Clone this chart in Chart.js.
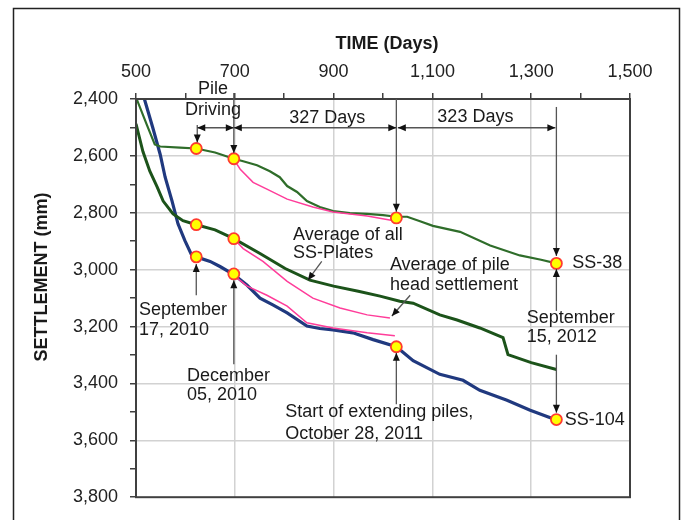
<!DOCTYPE html>
<html>
<head>
<meta charset="utf-8">
<script src="https://cdn.jsdelivr.net/npm/chart.js@4.4.1/dist/chart.umd.min.js"></script>
<style>
  html, body { margin: 0; padding: 0; background: #fff; }
</style>
</head>
<body>
<canvas id="chart" width="683" height="520"></canvas>
<script>
// SS-38 settlement plate (upper curve)
const ss38Days   = [502, 522, 538, 549, 589, 622, 660, 698, 717, 745, 771, 791, 806, 826, 846, 872, 899, 933, 968, 1000, 1027, 1049, 1075, 1101, 1156, 1217, 1277, 1320, 1351];
const ss38Settle = [2403, 2491, 2560, 2567, 2571, 2574, 2588, 2610, 2619, 2633, 2654, 2675, 2706, 2727, 2759, 2780, 2794, 2801, 2804, 2808, 2814, 2814, 2830, 2846, 2867, 2915, 2950, 2965, 2978];

// average of all SS-plates
const avgDays   = [500, 514, 528, 543, 555, 575, 595, 622, 660, 698, 751, 802, 852, 900, 950, 994, 1034, 1061, 1115, 1150, 1196, 1243, 1253, 1300, 1351];
const avgSettle = [2487, 2585, 2654, 2710, 2759, 2804, 2828, 2842, 2860, 2891, 2943, 2996, 3037, 3058, 3076, 3093, 3111, 3118, 3159, 3177, 3205, 3239, 3299, 3327, 3351];

// SS-104 settlement plate (lower curve)
const ss104Days   = [517, 534, 549, 559, 573, 585, 599, 613, 622, 650, 670, 698, 725, 751, 777, 806, 846, 872, 899, 939, 980, 1027, 1061, 1115, 1162, 1196, 1251, 1298, 1351];
const ss104Settle = [2400, 2501, 2595, 2675, 2759, 2839, 2898, 2950, 2955, 2971, 2989, 3017, 3055, 3100, 3124, 3152, 3198, 3207, 3212, 3222, 3246, 3271, 3320, 3368, 3389, 3424, 3459, 3494, 3529];

// pile head settlement (pink)
const pile38Days    = [698, 711, 737, 765, 806, 858, 899, 968, 1022];
const pile38Settle  = [2612, 2647, 2693, 2717, 2752, 2780, 2797, 2811, 2828];
const pileAvgDays   = [698, 717, 757, 806, 858, 913, 968, 1014];
const pileAvgSettle = [2891, 2926, 2971, 3041, 3100, 3135, 3159, 3170];
const pile104Days   = [698, 725, 765, 806, 846, 899, 968, 1024];
const pile104Settle = [3020, 3058, 3090, 3128, 3187, 3205, 3222, 3232];

// key dates: Sep 17 2010, Dec 05 2010, Oct 28 2011, Sep 15 2012
const keyDays      = [622, 698, 1027, 1351];
const ss38Marks    = [2574, 2610, 2818, 2978];
const avgMarks     = [2842, 2891];
const ss104Marks   = [2955, 3015, 3271, 3527];

const xTicks = [500, 700, 900, 1100, 1300, 1500];
const yTicks = [2400, 2600, 2800, 3000, 3200, 3400, 3600, 3800];

function pts(xs, ys) {
    return xs.map((x, i) => ({ x: x, y: ys[i] }));
}

const FONT = '"Liberation Sans", Arial, sans-serif';

// arrows [x1, y1, x2, y2] in data units, head at the end
const arrows = [
    [624, 2491, 624, 2553],
    [698, 2379, 698, 2590],
    [1027, 2400, 1027, 2796],
    [1351, 2428, 1351, 2952],
    [1351, 3145, 1351, 2998],
    [1351, 3299, 1351, 3503],
    [876, 2971, 848, 3037],
    [1055, 3090, 1018, 3163],
    [622, 3090, 622, 2980],
    [698, 3333, 698, 3037],
    [1027, 3473, 1027, 3292],
];
const spans = [
    [624, 698, 2501],
    [698, 1027, 2501],
    [1030, 1349, 2501],
];
const notes = [
    ["Pile", 656, 2365, "center"],
    ["Driving", 656, 2438, "center"],
    ["327 Days", 887, 2466, "center"],
    ["323 Days", 1187, 2463, "center"],
    ["Average of all", 818, 2877, "left"],
    ["SS-Plates", 818, 2940, "left"],
    ["Average of pile", 1014, 2985, "left"],
    ["head settlement", 1014, 3055, "left"],
    ["September", 506, 3142, "left"],
    ["17, 2010", 506, 3212, "left"],
    ["December", 603, 3375, "left"],
    ["05, 2010", 603, 3441, "left"],
    ["Start of extending piles,", 802, 3501, "left"],
    ["October 28, 2011", 802, 3577, "left"],
    ["SS-38", 1383, 2978, "left"],
    ["SS-104", 1368, 3529, "left"],
    ["September", 1291, 3170, "left"],
    ["15, 2012", 1291, 3236, "left"],
];

function head(ctx, x1, y1, x2, y2) {
    const a = Math.atan2(y2 - y1, x2 - x1);
    const L = 8, W = 3.5;
    ctx.beginPath();
    ctx.moveTo(x2, y2);
    ctx.lineTo(x2 - L * Math.cos(a) + W * Math.sin(a), y2 - L * Math.sin(a) - W * Math.cos(a));
    ctx.lineTo(x2 - L * Math.cos(a) - W * Math.sin(a), y2 - L * Math.sin(a) + W * Math.cos(a));
    ctx.closePath();
    ctx.fill();
}

const decor = {
    id: "decor",
    beforeDraw(chart) {
        const ctx = chart.ctx;
        ctx.save();
        ctx.strokeStyle = "#222";
        ctx.lineWidth = 1.5;
        ctx.strokeRect(13.5, 8.5, 666, 530);
        ctx.restore();
    },
    afterDatasetsDraw(chart) {
        const ctx = chart.ctx;
        const sx = chart.scales.x, sy = chart.scales.y;
        const a = chart.chartArea;
        ctx.save();
        ctx.strokeStyle = "#404040";
        ctx.lineWidth = 2;
        ctx.strokeRect(a.left, a.top, a.right - a.left, a.bottom - a.top);

        ctx.strokeStyle = "#555";
        ctx.fillStyle = "#111";
        ctx.lineWidth = 1.3;
        arrows.forEach(function (r) {
            const x1 = sx.getPixelForValue(r[0]), y1 = sy.getPixelForValue(r[1]);
            const x2 = sx.getPixelForValue(r[2]), y2 = sy.getPixelForValue(r[3]);
            ctx.beginPath();
            ctx.moveTo(x1, y1);
            ctx.lineTo(x2, y2);
            ctx.stroke();
            head(ctx, x1, y1, x2, y2);
        });
        spans.forEach(function (r) {
            const x1 = sx.getPixelForValue(r[0]), x2 = sx.getPixelForValue(r[1]);
            const y = sy.getPixelForValue(r[2]);
            ctx.beginPath();
            ctx.moveTo(x1, y);
            ctx.lineTo(x2, y);
            ctx.stroke();
            head(ctx, x2, y, x1, y);
            head(ctx, x1, y, x2, y);
        });

        ctx.fillStyle = "#1a1a1a";
        ctx.font = "18px " + FONT;
        ctx.textBaseline = "middle";
        notes.forEach(function (n) {
            ctx.textAlign = n[3];
            ctx.fillText(n[0], sx.getPixelForValue(n[1]), sy.getPixelForValue(n[2]));
        });

        ctx.font = "bold 18px " + FONT;
        ctx.textAlign = "center";
        ctx.fillText("TIME (Days)", 387, 44);
        ctx.translate(42, 277);
        ctx.rotate(-Math.PI / 2);
        ctx.fillText("SETTLEMENT (mm)", 0, 0);
        ctx.restore();
    },
};

const marker = {
    type: "scatter",
    pointRadius: 5.5,
    pointBackgroundColor: "#ffff00",
    pointBorderColor: "#ff3b2f",
    pointBorderWidth: 1.8,
    showLine: false,
};

const pink = { borderColor: "#ff3d9a", borderWidth: 1.5 };

new Chart(document.getElementById("chart"), {
    type: "line",
    data: {
        datasets: [
            Object.assign({ label: "SS-38 points", data: pts(keyDays, ss38Marks) }, marker),
            Object.assign({ label: "Average points", data: pts(keyDays.slice(0, 2), avgMarks) }, marker),
            Object.assign({ label: "SS-104 points", data: pts(keyDays, ss104Marks) }, marker),
            Object.assign({ label: "Pile head SS-38", data: pts(pile38Days, pile38Settle) }, pink),
            Object.assign({ label: "Pile head average", data: pts(pileAvgDays, pileAvgSettle) }, pink),
            Object.assign({ label: "Pile head SS-104", data: pts(pile104Days, pile104Settle) }, pink),
            { label: "SS-38", data: pts(ss38Days, ss38Settle), borderColor: "#2f6d2a", borderWidth: 2.2 },
            { label: "Average of all SS-Plates", data: pts(avgDays, avgSettle), borderColor: "#1c531a", borderWidth: 3 },
            { label: "SS-104", data: pts(ss104Days, ss104Settle), borderColor: "#20397f", borderWidth: 3.2 },
        ],
    },
    options: {
        responsive: false,
        animation: false,
        layout: { padding: { left: 0, right: 53, top: 0, bottom: 19 } },
        elements: { point: { radius: 0 }, line: { tension: 0 } },
        plugins: { legend: { display: false }, tooltip: { enabled: false } },
        scales: {
            x: {
                type: "linear",
                position: "top",
                min: 500,
                max: 1500,
                afterFit: function (s) { s.height = 99; },
                afterBuildTicks: function (s) {
                    s.ticks = [];
                    for (let v = 500; v <= 1500; v += 100) s.ticks.push({ value: v });
                },
                ticks: {
                    font: { family: FONT, size: 18 },
                    color: "#222",
                    padding: 10,
                    maxRotation: 0,
                    autoSkip: false,
                    callback: function (v) { return xTicks.includes(v) ? v.toLocaleString("en-US") : ""; },
                },
                grid: {
                    color: function (c) {
                        const v = c.tick && c.tick.value;
                        return xTicks.includes(v) && v !== 500 && v !== 1500 ? "#d2d2d2" : "rgba(0,0,0,0)";
                    },
                    lineWidth: 1.5,
                    tickColor: "#404040",
                    tickLength: 6,
                    tickWidth: 1.5,
                },
                border: { display: false },
            },
            y: {
                type: "linear",
                reverse: true,
                min: 2400,
                max: 3800,
                afterFit: function (s) { s.width = 136; },
                afterBuildTicks: function (s) {
                    s.ticks = [];
                    for (let v = 2400; v <= 3800; v += 100) s.ticks.push({ value: v });
                },
                ticks: {
                    font: { family: FONT, size: 18 },
                    color: "#222",
                    padding: 12,
                    autoSkip: false,
                    callback: function (v) { return yTicks.includes(v) ? v.toLocaleString("en-US") : ""; },
                },
                grid: {
                    color: function (c) {
                        const v = c.tick && c.tick.value;
                        return yTicks.includes(v) && v !== 2400 && v !== 3800 ? "#d2d2d2" : "rgba(0,0,0,0)";
                    },
                    lineWidth: 1.5,
                    tickColor: "#404040",
                    tickLength: 6,
                    tickWidth: 1.5,
                },
                border: { display: false },
            },
        },
    },
    plugins: [decor],
});
</script>
</body>
</html>
